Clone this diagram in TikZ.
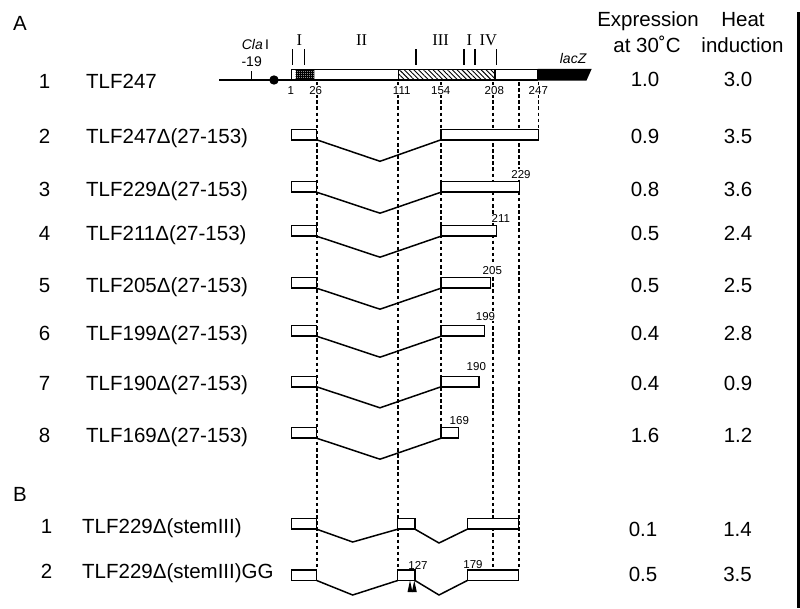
\documentclass[tikz,border=0pt]{standalone}
\usepackage{fontspec}
\setmainfont{Liberation Sans}
\newfontfamily\romanfont{Liberation Serif}
\usetikzlibrary{patterns.meta}
\begin{document}
\begin{tikzpicture}[x=1pt,y=-1pt,
  big/.style={inner sep=0pt, font=\fontsize{20.5}{24}\selectfont},
  mid/.style={inner sep=0pt, font=\fontsize{14}{16}\selectfont, anchor=base},
  rom/.style={inner sep=0pt, font=\romanfont\fontsize{16.5}{18}\selectfont, anchor=base},
  small/.style={inner sep=0.6pt, fill=white, font=\fontsize{11.5}{13}\selectfont, anchor=base},
  box/.style={draw, line width=1.5pt, fill=white, inner sep=0pt, outer sep=0pt, minimum height=10.5pt, anchor=north west},
  guide/.style={line width=1.6pt, dash pattern=on 3.5pt off 2.6pt},
  wire/.style={line width=1.5pt},
]
\useasboundingbox (0,0) rectangle (800,608);

% ---------- dashed guide lines ----------
\coordinate (g26t) at (316.7,82);   \coordinate (g26b) at (316.7,570);
\coordinate (g111t) at (398,82);    \coordinate (g111b) at (398,570);
\coordinate (g154t) at (441,82);    \coordinate (g154b) at (441,427.7);
\coordinate (g208t) at (493.1,82);  \coordinate (g208b) at (493.1,570);
\coordinate (g229t) at (519,82);    \coordinate (g229b) at (519,570);
\coordinate (g247t) at (538.5,82);  \coordinate (g247b) at (538.5,129.3);
\foreach \g in {26,111,154,208,229,247}{\draw[guide] (g\g t) -- (g\g b);}

% ---------- row 1: the full construct ----------
\coordinate (lineL) at (219.3,80);
\coordinate (barL) at (291.7,80);
\draw[wire] (lineL) -- (barL);
\draw[wire] (251.7,71) -- (251.7,80);
\fill (274,80) circle (4.7);
\fill[white] (291.7,69.3) rectangle (537.7,80);
\fill[black!45] (295.7,69.3) rectangle (314.3,80);
\path[pattern={Hatch[distance=2pt,line width=0.5pt]}] (295.7,69.3) rectangle (314.3,80);
\path[pattern={Lines[angle=-45,distance=3.4pt,line width=0.9pt]}] (398.3,69.3) rectangle (495,80);
\draw[wire] (291.7,69.3) rectangle (537.7,80);
\draw[wire] (398.3,69.3) -- (398.3,80);
\draw[wire] (495,69.3) -- (495,80);
\fill (537.7,68.8) -- (591.7,68.8) -- (586.5,80.5) -- (537.7,80.5) -- cycle;
\foreach \tx in {292.7,304.3,416,464,475,496.7}{\draw[line width=1.4pt] (\tx,49.3) -- (\tx,65);}

\node[mid] (cla) at (255.5,49.3) {\textit{Cla}\,I};
\node[mid] (m19) at (251.7,66.7) {-19};
\node[mid] (lacz) at (573.3,63.3) {\textit{lacZ}};
\node[rom] (r1) at (299.3,45) {I};
\node[rom] (r2) at (361.7,45) {II};
\node[rom] (r3) at (440.7,45) {III};
\node[rom] (r4) at (469.3,45) {I};
\node[rom] (r5) at (488.3,45) {IV};
\node[small] (n1) at (290.7,94) {1};
\node[small] (n26) at (315.7,94) {26};
\node[small] (n111) at (401.7,94) {111};
\node[small] (n154) at (440.7,94) {154};
\node[small] (n208) at (494.3,94) {208};
\node[small] (n247) at (538.3,94) {247};

% ---------- headers ----------
\node[big, anchor=base west] (pA) at (13,30.7) {A};
\node[big, anchor=base west] (pB) at (13,501.7) {B};
\node[big, anchor=base] (h1) at (648,26.7) {Expression};
\node[big, anchor=base] (h2) at (647,52.3) {at 30˚C};
\node[big, anchor=base] (h3) at (743,26.7) {Heat};
\node[big, anchor=base] (h4) at (742.5,52.3) {induction};

\node[big, anchor=base] (N1) at (44.5,88.3) {1};
\node[big, anchor=base west] (T1) at (86,88.3) {TLF247};
\node[big, anchor=base] (X1) at (645,86) {1.0};
\node[big, anchor=base] (Y1) at (738,86) {3.0};

% ---------- row 2 ----------
\node[box, minimum width=25.2pt] (L2) at (291.5,129.3) {};
\node[box, minimum width=97.5pt] (R2) at (441,129.3) {};
\coordinate (V2) at (380,161.3);
\draw[wire] (L2.south east) -- (V2) -- (R2.south west);
\node[big, anchor=base] (N2) at (44.5,143.8) {2};
\node[big, anchor=base west] (T2) at (86,143.8) {TLF247Δ(27-153)};
\node[big, anchor=base] (X2) at (645,143.3) {0.9};
\node[big, anchor=base] (Y2) at (738,143.3) {3.5};

% ---------- rows 3-8 ----------
\foreach \k/\t/\w/\lab/\lx/\ly/\va/\vb in {
  3/181.7/78.5/229/521/178/0.8/3.6,
  4/225.7/55.7/211/500.8/222.7/0.5/2.4,
  5/277.7/49.7/205/492.3/274/0.5/2.5,
  6/325.7/43.3/199/485.5/320.7/0.4/2.8,
  7/376.3/38/190/476.3/370.7/0.4/0.9,
  8/427.7/17.3/169/459.3/424/1.6/1.2}{
  \node[box, minimum width=25.2pt] (L\k) at (291.5,\t) {};
  \node[box, minimum width=\w pt] (R\k) at (441,\t) {};
  \coordinate (V\k) at (380,\t+31.5);
  \draw[wire] (L\k.south east) -- (V\k) -- (R\k.south west);
  \node[small] (E\k) at (\lx,\ly) {\lab};
  \node[big, anchor=base] (N\k) at (44.5,\t+14.3) {\k};
  \node[big, anchor=base west] (T\k) at (86,\t+14.3) {TLF\lab{}Δ(27-153)};
  \node[big, anchor=base] (X\k) at (645,\t+14.3) {\va};
  \node[big, anchor=base] (Y\k) at (738,\t+14.3) {\vb};
}

% ---------- B rows ----------
\node[box, minimum width=25.2pt] (LB1) at (291.5,518.7) {};
\node[box, minimum width=17.3pt] (MB1) at (397.7,518.7) {};
\node[box, minimum width=51pt] (RB1) at (467.3,518.7) {};
\coordinate (VB1a) at (352.7,542);
\coordinate (VB1b) at (439,543);
\draw[wire] (LB1.south east) -- (VB1a) -- (MB1.south west);
\draw[wire] (MB1.south east) -- (VB1b) -- (RB1.south west);
\node[big, anchor=base] (NB1) at (46.5,533.5) {1};
\node[big, anchor=base west] (TB1) at (82,533.5) {TLF229Δ(stemIII)};
\node[big, anchor=base] (XB1) at (643,536.5) {0.1};
\node[big, anchor=base] (YB1) at (737.5,536.5) {1.4};

\node[box, minimum width=25.2pt] (LB2) at (291.5,570) {};
\node[box, minimum width=17.3pt] (MB2) at (397.7,570) {};
\node[box, minimum width=51pt] (RB2) at (467.3,570) {};
\coordinate (VB2a) at (352.7,595);
\coordinate (VB2b) at (439,595);
\draw[wire] (LB2.south east) -- (VB2a) -- (MB2.south west);
\draw[wire] (MB2.south east) -- (VB2b) -- (RB2.south west);
\fill (407.5,592) -- (410,580.5) -- (412.5,592) -- cycle;
\fill (411.8,592) -- (414.3,580.5) -- (416.8,592) -- cycle;
\node[small, fill=none] (E127) at (418,569.3) {127};
\node[small, fill=none] (E179) at (473,568.7) {179};
\node[big, anchor=base] (NB2) at (46.5,578.5) {2};
\node[big, anchor=base west] (TB2) at (82,578.5) {TLF229Δ(stemIII)GG};
\node[big, anchor=base] (XB2) at (643,581.5) {0.5};
\node[big, anchor=base] (YB2) at (737.5,581.5) {3.5};

% right border rule
\coordinate (edgeT) at (798.5,12);
\coordinate (edgeB) at (798.5,608);
\draw[line width=2.5pt] (edgeT) -- (edgeB);
\end{tikzpicture}
\end{document}
